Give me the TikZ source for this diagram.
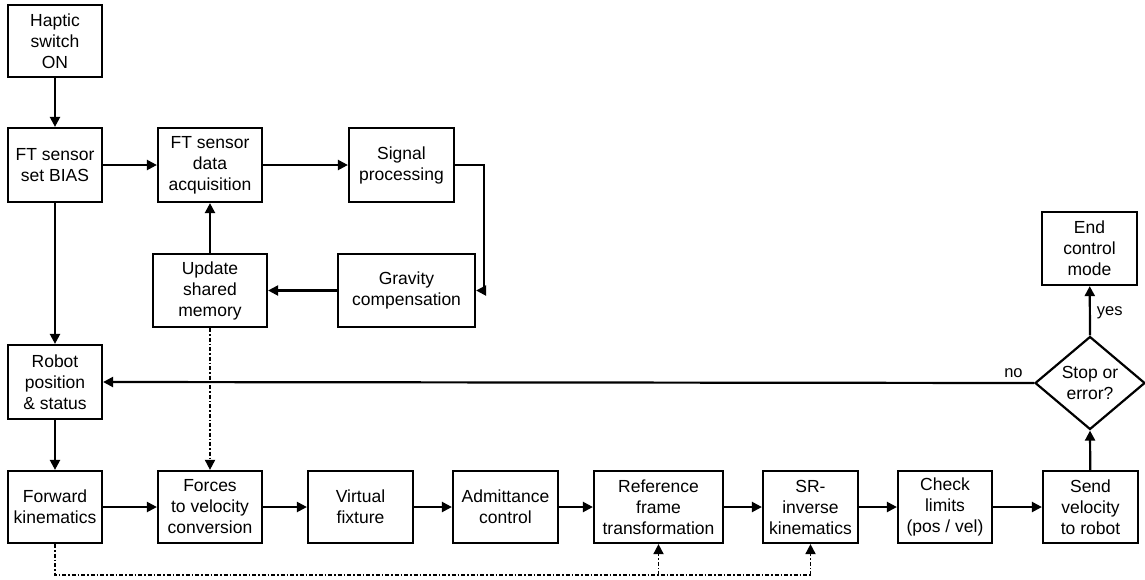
\documentclass[tikz,border=0pt]{standalone}
\usepackage{fontspec}
\setmainfont{Liberation Sans}
\usetikzlibrary{arrows.meta,shapes.geometric}
\begin{document}
\begin{tikzpicture}[x=1pt,y=-1pt,
  every node/.style={font=\fontsize{17.5}{21}\selectfont, align=center, inner sep=0pt},
  block/.style={draw, line width=2.2pt, minimum height=73pt},
  decision/.style={draw, line width=2.2pt, diamond, minimum width=110pt, minimum height=93pt, inner sep=0pt},
  flow/.style={line width=2.2pt, -{Triangle[length=10pt,width=10pt]}},
  signal/.style={line width=1.8pt, dash pattern=on 4pt off 2pt on 1.5pt off 2pt},
  signalarrow/.style={signal, -{Triangle[length=10pt,width=10pt]}},
  tag/.style={font=\fontsize{16.5}{19}\selectfont}
]
\useasboundingbox (0,0) rectangle (1145,579);

% start and sensor loop
\node[block, minimum width=94pt, minimum height=72pt] (haptic) at (55,41) {Haptic\\switch\\ON};
\node[block, minimum width=94pt, minimum height=74pt] (bias) at (55,165) {FT sensor\\set BIAS};
\node[block, minimum width=104pt, minimum height=74pt] (acq) at (210,165) {FT sensor\\data\\acquisition};
\node[block, minimum width=105pt, minimum height=74pt] (sig) at (401.5,165) {Signal\\processing};
\node[block, minimum width=137pt] (grav) at (406.5,290.5) {Gravity\\compensation};
\node[block, minimum width=114pt] (upd) at (210,290.5) {Update\\shared\\memory};
\node[block, minimum width=94pt, minimum height=74pt] (robot) at (55,382) {Robot\\position\\\& status};

% control chain
\node[block, minimum width=94pt, minimum height=72pt] (fk) at (55,507) {Forward\\kinematics};
\node[block, minimum width=104pt, minimum height=72pt] (forces) at (210,507) {Forces\\to velocity\\conversion};
\node[block, minimum width=105pt, minimum height=72pt] (virt) at (360.5,507) {Virtual\\fixture};
\node[block, minimum width=105pt, minimum height=72pt] (admit) at (505.5,507) {Admittance\\control};
\node[block, minimum width=129pt, minimum height=72pt] (ref) at (658.5,507) {Reference\\frame\\transformation};
\node[block, minimum width=95pt, minimum height=72pt] (srinv) at (810.5,507) {SR-\\inverse\\kinematics};
\node[block, minimum width=94pt, minimum height=72pt] (check) at (945,507) {Check\\limits\\(pos / vel)};
\node[block, minimum width=95pt, minimum height=72pt] (send) at (1090.5,507) {Send\\velocity\\to robot};

% termination
\node[decision] (stop) at (1090,383) {Stop or\\error?};
\node[block, minimum width=95pt] (endm) at (1089.5,248.5) {End\\control\\mode};

% solid flow
\draw[flow] (haptic) -- (bias);
\draw[flow] (bias) -- (acq);
\draw[flow] (acq) -- (sig);
\coordinate (sigturn) at (484,165);
\draw[flow] (sig.east) -- (sigturn) |- (grav.east);
\draw[flow] (grav) -- (upd);
\draw[flow] (upd) -- (acq);
\draw[flow] (bias) -- (robot);
\draw[flow] (robot) -- (fk);
\draw[flow] (fk) -- (forces);
\draw[flow] (forces) -- (virt);
\draw[flow] (virt) -- (admit);
\draw[flow] (admit) -- (ref);
\draw[flow] (ref) -- (srinv);
\draw[flow] (srinv) -- (check);
\draw[flow] (check) -- (send);
\draw[flow] (send) -- (stop.south);
\draw[flow] (stop.north) -- node[tag, right=6pt, pos=0.45] {yes} (endm);
\draw[flow] (stop.west) -- node[tag, above=4pt, pos=0.022] {no} (robot.east);

% shared-memory and kinematics signals
\draw[signalarrow] (upd) -- (forces);
\coordinate (busleft) at (fk.south |- 0,575);
\coordinate (busref) at (ref.south |- 0,575);
\coordinate (busright) at (srinv.south |- 0,575);
\draw[signal] (fk.south) -- (busleft) -- (busright);
\draw[signalarrow] (busright) -- (srinv.south);
\draw[signalarrow] (busref) -- (ref.south);
\end{tikzpicture}
\end{document}
